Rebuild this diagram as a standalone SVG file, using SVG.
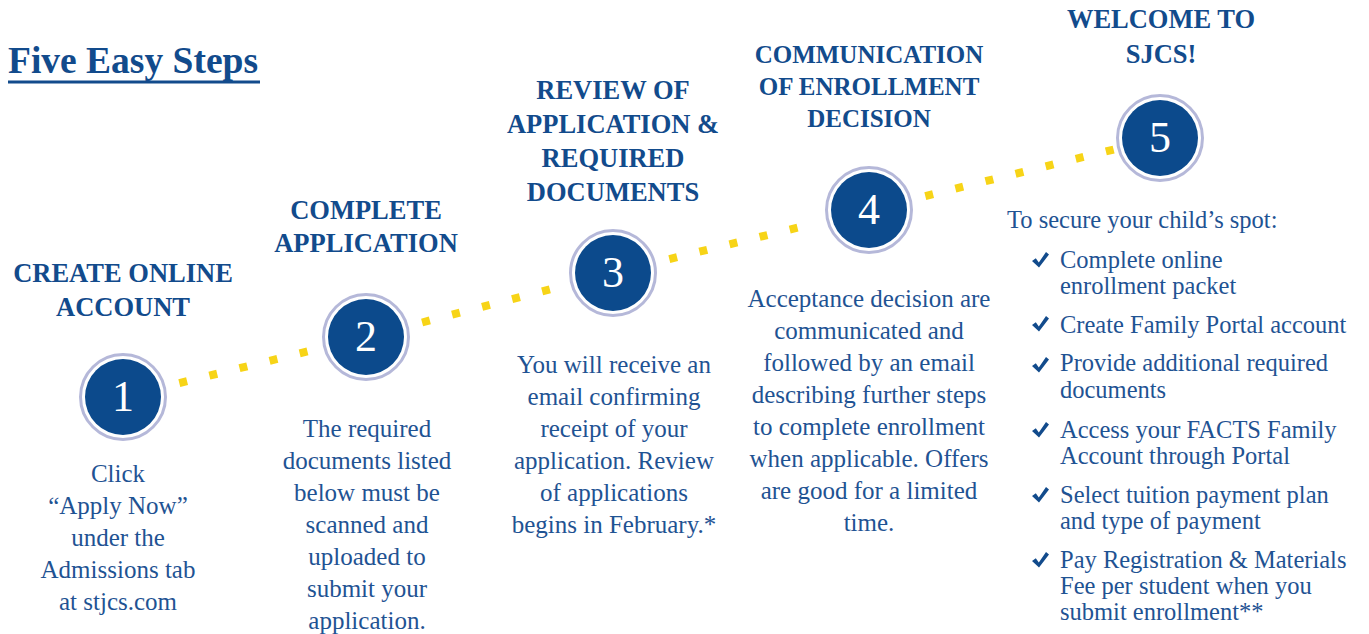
<svg xmlns="http://www.w3.org/2000/svg" width="1369" height="634" viewBox="0 0 1369 634">
<style>
.t{font-family:"Liberation Serif",serif;font-weight:bold;font-size:37.5px;fill:#124b8c}
.h{font-family:"Liberation Serif",serif;font-weight:bold;font-size:26.5px;fill:#124b8c;text-anchor:middle}
.h4{font-size:25px}
.b{font-family:"Liberation Serif",serif;font-size:25px;fill:#1f5393;text-anchor:middle}
.l{font-family:"Liberation Serif",serif;font-size:24.5px;fill:#1f5393}
.disc{fill:#0c4a8c}
.ring{fill:none;stroke:#b5b8d9;stroke-width:3}
.n{font-family:"Liberation Serif",serif;font-size:44px;fill:#ffffff;text-anchor:middle}
.dots{stroke:#f7d417;stroke-width:8;stroke-dasharray:8 23;fill:none}
</style>
<defs>
<path id="chk" d="M0,4 L3.8,1.2 L6.8,5.5 L14,-5 L17,-2.5 L7,10.5 Z" fill="#124b8c"/>
</defs>
<rect width="1369" height="634" fill="#ffffff"/>
<g id="title">
<text class="t" x="8" y="73">Five Easy Steps</text>
<line x1="8" y1="82" x2="260" y2="82" stroke="#124b8c" stroke-width="3"/>
</g>
<g id="connectors">
<line class="dots" x1="179.3" y1="383.1" x2="309.7" y2="350.9"/>
<line class="dots" x1="422.1" y1="322.5" x2="556.9" y2="287.5"/>
<line class="dots" x1="669.3" y1="259.1" x2="812.7" y2="223.9"/>
<line class="dots" x1="925.3" y1="196.1" x2="1117.3" y2="148.6"/>
</g>
<g id="step1">
<text class="h" x="123" y="282">CREATE ONLINE</text>
<text class="h" x="123" y="316">ACCOUNT</text>
<circle class="ring" cx="123" cy="397" r="42.5"/>
<circle class="disc" cx="123" cy="397" r="38"/>
<text class="n" x="123" y="411">1</text>
<text class="b" x="118" y="482">Click</text>
<text class="b" x="118" y="514">“Apply Now”</text>
<text class="b" x="118" y="546">under the</text>
<text class="b" x="118" y="578">Admissions tab</text>
<text class="b" x="118" y="610">at stjcs.com</text>
</g>
<g id="step2">
<text class="h" x="366" y="219">COMPLETE</text>
<text class="h" x="366" y="252">APPLICATION</text>
<circle class="ring" cx="366" cy="337" r="42.5"/>
<circle class="disc" cx="366" cy="337" r="38"/>
<text class="n" x="366" y="351">2</text>
<text class="b" x="367" y="437">The required</text>
<text class="b" x="367" y="469">documents listed</text>
<text class="b" x="367" y="501">below must be</text>
<text class="b" x="367" y="533">scanned and</text>
<text class="b" x="367" y="565">uploaded to</text>
<text class="b" x="367" y="597">submit your</text>
<text class="b" x="367" y="629">application.</text>
</g>
<g id="step3">
<text class="h" x="613" y="99">REVIEW OF</text>
<text class="h" x="613" y="133">APPLICATION &amp;</text>
<text class="h" x="613" y="167">REQUIRED</text>
<text class="h" x="613" y="201">DOCUMENTS</text>
<circle class="ring" cx="613" cy="273" r="42.5"/>
<circle class="disc" cx="613" cy="273" r="38"/>
<text class="n" x="613" y="287">3</text>
<text class="b" x="614" y="373">You will receive an</text>
<text class="b" x="614" y="405">email confirming</text>
<text class="b" x="614" y="437">receipt of your</text>
<text class="b" x="614" y="469">application. Review</text>
<text class="b" x="614" y="501">of applications</text>
<text class="b" x="614" y="533">begins in February.*</text>
</g>
<g id="step4">
<text class="h h4" x="869" y="63">COMMUNICATION</text>
<text class="h h4" x="869" y="95">OF ENROLLMENT</text>
<text class="h h4" x="869" y="127">DECISION</text>
<circle class="ring" cx="869" cy="210" r="42.5"/>
<circle class="disc" cx="869" cy="210" r="38"/>
<text class="n" x="869" y="224">4</text>
<text class="b" x="869" y="307">Acceptance decision are</text>
<text class="b" x="869" y="339">communicated and</text>
<text class="b" x="869" y="371">followed by an email</text>
<text class="b" x="869" y="403">describing further steps</text>
<text class="b" x="869" y="435">to complete enrollment</text>
<text class="b" x="869" y="467">when applicable. Offers</text>
<text class="b" x="869" y="499">are good for a limited</text>
<text class="b" x="869" y="531">time.</text>
</g>
<g id="step5">
<text class="h" x="1161" y="28">WELCOME TO</text>
<text class="h" x="1161" y="63">SJCS!</text>
<circle class="ring" cx="1160" cy="138" r="42.5"/>
<circle class="disc" cx="1160" cy="138" r="38"/>
<text class="n" x="1160" y="152">5</text>
<text class="l" x="1007" y="228">To secure your child’s spot:</text>
<use href="#chk" x="1032" y="257"/>
<text class="l" x="1060" y="268">Complete online</text>
<text class="l" x="1060" y="294">enrollment packet</text>
<use href="#chk" x="1032" y="321"/>
<text class="l" x="1060" y="333">Create Family Portal account</text>
<use href="#chk" x="1032" y="362"/>
<text class="l" x="1060" y="371">Provide additional required</text>
<text class="l" x="1060" y="398">documents</text>
<use href="#chk" x="1032" y="427"/>
<text class="l" x="1060" y="438">Access your FACTS Family</text>
<text class="l" x="1060" y="464">Account through Portal</text>
<use href="#chk" x="1032" y="492"/>
<text class="l" x="1060" y="503">Select tuition payment plan</text>
<text class="l" x="1060" y="529">and type of payment</text>
<use href="#chk" x="1032" y="557"/>
<text class="l" x="1060" y="568">Pay Registration &amp; Materials</text>
<text class="l" x="1060" y="594">Fee per student when you</text>
<text class="l" x="1060" y="620">submit enrollment**</text>
</g>
</svg>
